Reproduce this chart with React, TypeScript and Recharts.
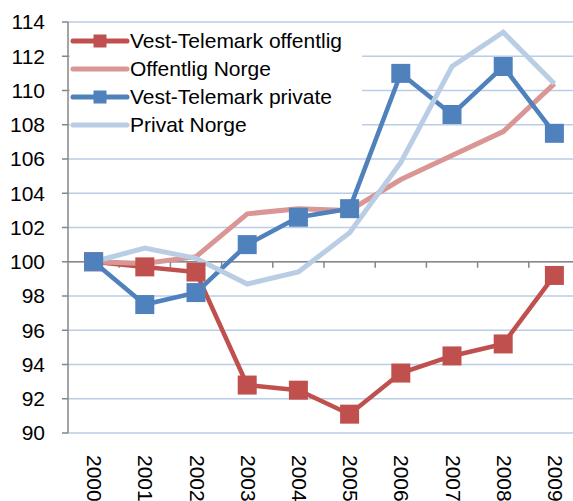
import React from 'react';
import { LineChart, Line, XAxis, YAxis, CartesianGrid, ReferenceLine } from 'recharts';

const years = ['2000', '2001', '2002', '2003', '2004', '2005', '2006', '2007', '2008', '2009'];
const vtOffentlig = [100, 99.7, 99.4, 92.8, 92.5, 91.1, 93.5, 94.5, 95.2, 99.2];
const offentligNorge = [100, 99.9, 100.3, 102.8, 103.1, 103.0, 104.8, 106.2, 107.6, 110.4];
const vtPrivate = [100, 97.5, 98.2, 101.0, 102.6, 103.1, 111.0, 108.6, 111.4, 107.5];
const privatNorge = [100, 100.8, 100.2, 98.7, 99.4, 101.7, 105.8, 111.4, 113.4, 110.4];
const yTicks = [90, 92, 94, 96, 98, 100, 102, 104, 106, 108, 110, 112, 114];

const series = [
  { key: 'vto', name: 'Vest-Telemark offentlig', values: vtOffentlig, color: '#C0504D', marker: true },
  { key: 'on', name: 'Offentlig Norge', values: offentligNorge, color: '#D99694', marker: false },
  { key: 'vtp', name: 'Vest-Telemark private', values: vtPrivate, color: '#4F81BD', marker: true },
  { key: 'pn', name: 'Privat Norge', values: privatNorge, color: '#B9CDE5', marker: false },
];

const data = years.map((y, i) => {
  const row: any = { idx: i, year: y };
  series.forEach(s => { row[s.key] = s.values[i]; });
  return row;
});

const FONT = '"Liberation Sans", Arial, sans-serif';
const AXIS = '#868686';

const squareDot = (color: string) => (props: any) => {
  const { cx, cy, key } = props;
  if (cx == null || cy == null) return <g key={key} />;
  return <rect key={key} x={cx - 9.5} y={cy - 9.5} width={19} height={19} fill={color} />;
};

const YearTick = (props: any) => {
  const { x, y, payload } = props;
  return (
    <text
      x={x + 1}
      y={y + 22}
      transform={`rotate(90, ${x + 1}, ${y + 22})`}
      textAnchor="start"
      dominantBaseline="central"
      fontSize={21}
      fontFamily={FONT}
      fill="#000"
    >
      {years[payload.value]}
    </text>
  );
};

const App: React.FC = () => {
  return (
    <div style={{ position: 'absolute', left: 0, top: 0, width: 573, height: 501, overflow: 'hidden', background: '#fff', fontFamily: FONT }}>
      <LineChart width={600} height={501} data={data} margin={{ top: 22, right: 20, left: 0, bottom: 0 }}>
        <CartesianGrid vertical={false} stroke="#B9CDE5" strokeWidth={1.5} />
        <XAxis
          dataKey="idx"
          type="number"
          domain={[-0.5, 9.5]}
          ticks={years.map((_, i) => i)}
          height={68}
          axisLine={false}
          tickLine={false}
          tickSize={0}
          tickMargin={0}
          tick={<YearTick />}
          interval={0}
        />
        <YAxis
          domain={[90, 114]}
          ticks={yTicks}
          width={68}
          axisLine={{ stroke: AXIS, strokeWidth: 1.5 }}
          tickLine={{ stroke: AXIS, strokeWidth: 1.5 }}
          tickSize={6}
          tickMargin={17}
          tick={{ fontSize: 21, fill: '#000', fontFamily: FONT }}
          interval={0}
        />
        <ReferenceLine y={100} stroke={AXIS} strokeWidth={1.5} />
        {years.map((_, i) => (
          <ReferenceLine
            key={`t${i}`}
            segment={[{ x: i + 0.5, y: 100 }, { x: i + 0.5, y: 99.65 }]}
            stroke={AXIS}
            strokeWidth={1.5}
          />
        ))}
        {series.map(s => (
          <Line
            key={s.key}
            dataKey={s.key}
            name={s.name}
            stroke={s.color}
            strokeWidth={s.marker ? 4.5 : 5}
            dot={s.marker ? squareDot(s.color) : false}
            activeDot={false}
            isAnimationActive={false}
          />
        ))}
      </LineChart>
      <div style={{ position: 'absolute', left: 70, top: 27, width: 292, background: '#fff', paddingBottom: 2 }}>
        {series.map(s => (
          <div key={s.key} style={{ display: 'flex', alignItems: 'center', height: 28 }}>
            <svg width={60} height={28} style={{ flex: 'none' }}>
              <line x1={3} x2={57} y1={14} y2={14} stroke={s.color} strokeWidth={5} strokeLinecap="round" />
              {s.marker && <rect x={23.5} y={7.5} width={13} height={13} fill={s.color} />}
            </svg>
            <span style={{ fontSize: 21, color: '#000', whiteSpace: 'nowrap' }}>{s.name}</span>
          </div>
        ))}
      </div>
    </div>
  );
};

export default App;
